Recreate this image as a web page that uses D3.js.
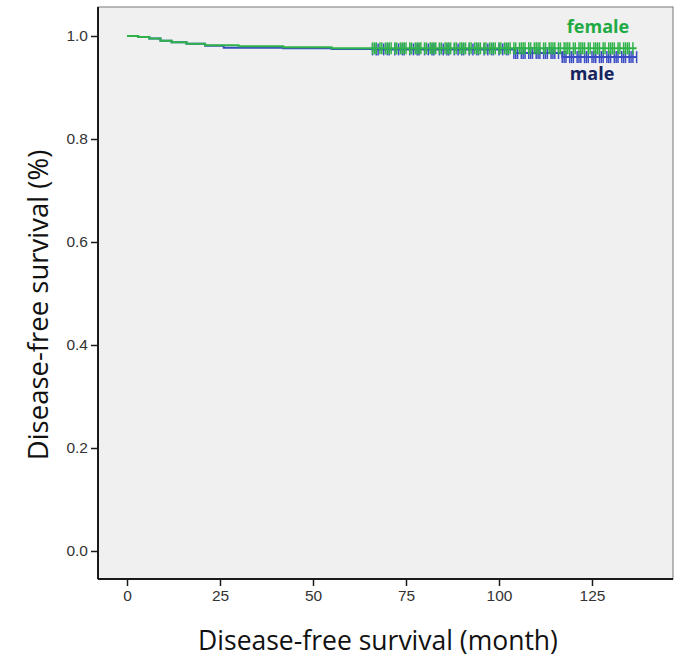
<!DOCTYPE html>
<html>
<head>
<meta charset="utf-8">
<script src="https://cdn.jsdelivr.net/npm/d3@7"></script>
<style>
  body { margin: 0; background: #fff; }
</style>
</head>
<body>
<div id="chart"></div>
<script>
/**
 * Chart data. Step points of the two survival curves, and censor marks.
 */
var GROUPS = ["female", "male"];
var FEMALE_TIME = [0, 3, 6, 9, 12, 16, 21, 30, 42, 55, 66, 137];
var FEMALE_SURV = [1.0, 0.998, 0.995, 0.991, 0.988, 0.985, 0.982, 0.980, 0.978, 0.976, 0.976, 0.976];
var MALE_TIME = [0, 3, 6, 9, 12, 16, 21, 26, 42, 55, 66, 104, 117, 137];
var MALE_SURV = [1.0, 0.998, 0.995, 0.991, 0.988, 0.985, 0.981, 0.977, 0.976, 0.975, 0.974, 0.967, 0.959, 0.959];
var FEMALE_CENSOR = [66, 66.5, 67, 68, 68.5, 69.5, 70, 70.5, 71, 72, 72.5, 73.5, 74, 74.5, 75, 76, 76.5, 77.5,
    78, 78.5, 79, 80, 80.5, 81.5, 82, 82.5, 83, 84, 84.5, 85.5, 86, 86.5, 87, 88, 88.5, 89.5, 90, 90.5, 91,
    92, 92.5, 93.5, 94, 94.5, 95, 96, 96.5, 97.5, 98, 98.5, 99, 100, 100.5, 101.5, 102, 102.5, 103, 104,
    104.5, 105.5, 106, 106.5, 107, 108, 108.5, 109.5, 110, 110.5, 111, 112, 112.5, 113.5, 114, 114.5, 115,
    116, 116.5, 117.5, 118, 118.5, 119, 120, 120.5, 121.5, 122, 122.5, 123, 124, 124.5, 125.5, 126, 126.5,
    127, 128, 128.5, 129.5, 130, 130.5, 131, 132, 132.5, 133.5, 134, 134.5, 135, 136];
var MALE_CENSOR = [66, 67, 67.5, 69, 70, 70.5, 72, 73, 74, 74.5, 76, 77, 78, 78.5, 80, 81, 82, 82.5, 84, 85,
    86, 86.5, 88, 89, 90, 90.5, 92, 93, 94, 94.5, 96, 97, 98, 98.5, 100, 101, 102, 102.5, 104, 104.5, 105,
    106, 106.5, 107, 108, 108.5, 109, 110, 110.5, 111, 112, 112.5, 113, 114, 114.5, 115, 116, 117, 117.5,
    118, 119, 119.5, 120, 121, 121.5, 122, 123, 123.5, 124, 125, 125.5, 126, 127, 127.5, 128, 129, 129.5,
    130, 131, 131.5, 132, 133, 133.5, 134, 135, 135.5, 136, 137];
var X_TICKS = [0, 25, 50, 75, 100, 125];
var Y_TICKS = [0.0, 0.2, 0.4, 0.6, 0.8, 1.0];
var COLORS = { female: "#2fb24a", male: "#3a4cc4" };
var LABEL_COLORS = { female: "#1faa44", male: "#16245e" };

var WIDTH = 685, HEIGHT = 665;
var BOX = { left: 98, top: 7, right: 673, bottom: 579 };

var SVG = d3.select("#chart").append("svg")
    .attr("width", WIDTH)
    .attr("height", HEIGHT);

var x = d3.scaleLinear().domain([0, 125]).range([127, 592]);
var y = d3.scaleLinear().domain([0, 1]).range([551, 36]);

/**
 * Plot background and border.
 */
SVG.append("rect")
    .attr("x", BOX.left).attr("y", BOX.top)
    .attr("width", BOX.right - BOX.left).attr("height", BOX.bottom - BOX.top)
    .attr("fill", "#f0f0f0")
    .attr("stroke", "#8c8c8c")
    .attr("stroke-width", 1.2);

/**
 * Axes.
 */
var xAxis = SVG.append("g").attr("transform", "translate(0," + BOX.bottom + ")")
    .call(d3.axisBottom(x).tickValues(X_TICKS).tickSize(7).tickPadding(4).tickFormat(d3.format("d")));
var yAxis = SVG.append("g").attr("transform", "translate(" + BOX.left + ",0)")
    .call(d3.axisLeft(y).tickValues(Y_TICKS).tickSize(7).tickPadding(3).tickFormat(d3.format(".1f")));
xAxis.select(".domain").attr("d", "M" + BOX.left + ",0H" + BOX.right);
yAxis.select(".domain").attr("d", "M0," + BOX.top + "V" + BOX.bottom);
[xAxis, yAxis].forEach(function (a) {
    a.selectAll(".domain").attr("stroke", "#1a1a1a").attr("stroke-width", 2);
    a.selectAll(".tick line").attr("stroke", "#1a1a1a").attr("stroke-width", 1.5);
    a.selectAll("text").attr("font-family", "Liberation Sans, Arial, sans-serif")
        .attr("font-size", 15.5).attr("fill", "#333");
});

/**
 * Axis titles.
 */
SVG.append("text")
    .attr("x", 378).attr("y", 650)
    .attr("text-anchor", "middle")
    .attr("font-family", "Open Sans, sans-serif")
    .attr("font-size", 26.5).attr("fill", "#111")
    .text("Disease-free survival (month)");
SVG.append("text")
    .attr("transform", "translate(48,305) rotate(-90)")
    .attr("text-anchor", "middle")
    .attr("font-family", "Open Sans, sans-serif")
    .attr("font-size", 27.5).attr("fill", "#111")
    .text("Disease-free survival (%)");

/**
 * Survival curves and censor marks.
 */
var series = {
    male: { time: MALE_TIME, surv: MALE_SURV, censor: MALE_CENSOR },
    female: { time: FEMALE_TIME, surv: FEMALE_SURV, censor: FEMALE_CENSOR }
};
var line = d3.line().curve(d3.curveStepAfter)
    .x(function (d) { return x(d[0]); })
    .y(function (d) { return y(d[1]); });

function survAt(s, t) {
    var v = s.surv[0];
    for (var i = 0; i < s.time.length; ++i) if (s.time[i] <= t) v = s.surv[i];
    return v;
}

["male", "female"].forEach(function (g) {
    var s = series[g];
    var pts = s.time.map(function (t, i) { return [t, s.surv[i]]; });
    SVG.append("path")
        .attr("d", line(pts))
        .attr("fill", "none")
        .attr("stroke", COLORS[g])
        .attr("stroke-width", 2);
    SVG.append("g").selectAll("line").data(s.censor).enter().append("line")
        .attr("x1", function (d) { return x(d); })
        .attr("x2", function (d) { return x(d); })
        .attr("y1", function (d) { return y(survAt(s, d)) - 6; })
        .attr("y2", function (d) { return y(survAt(s, d)) + 6; })
        .attr("stroke", COLORS[g])
        .attr("stroke-width", 1.5);
});

/**
 * Group labels.
 */
SVG.append("text").attr("x", 598).attr("y", 33)
    .attr("text-anchor", "middle")
    .attr("font-family", "Open Sans, sans-serif").attr("font-weight", "bold")
    .attr("font-size", 18).attr("fill", LABEL_COLORS.female).text(GROUPS[0]);
SVG.append("text").attr("x", 592).attr("y", 80)
    .attr("text-anchor", "middle")
    .attr("font-family", "Open Sans, sans-serif").attr("font-weight", "bold")
    .attr("font-size", 18).attr("fill", LABEL_COLORS.male).text(GROUPS[1]);
</script>
</body>
</html>
